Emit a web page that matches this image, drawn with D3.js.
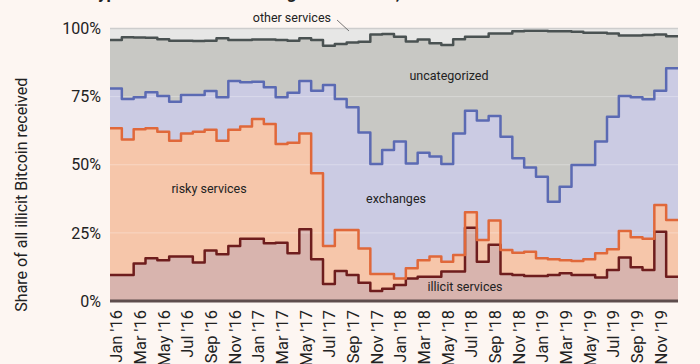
<!DOCTYPE html>
<html>
<head>
<meta charset="utf-8">
<script src="https://cdn.jsdelivr.net/npm/d3@7/dist/d3.min.js"></script>
<style>
  html, body { margin: 0; padding: 0; background: #fdf6f2; }
  svg { display: block; font-family: Roboto, "Noto Sans", sans-serif; }
</style>
</head>
<body>
<svg id="chart" width="700" height="364"></svg>
<script>
const months = ["Jan '16","Feb '16","Mar '16","Apr '16","May '16","Jun '16","Jul '16","Aug '16","Sep '16","Oct '16","Nov '16","Dec '16",
  "Jan '17","Feb '17","Mar '17","Apr '17","May '17","Jun '17","Jul '17","Aug '17","Sep '17","Oct '17","Nov '17","Dec '17",
  "Jan '18","Feb '18","Mar '18","Apr '18","May '18","Jun '18","Jul '18","Aug '18","Sep '18","Oct '18","Nov '18","Dec '18",
  "Jan '19","Feb '19","Mar '19","Apr '19","May '19","Jun '19","Jul '19","Aug '19","Sep '19","Oct '19","Nov '19","Dec '19"];
const tickLabels = ["Jan '16","Mar '16","May '16","Jul '16","Sep '16","Nov '16","Jan '17","Mar '17","May '17","Jul '17","Sep '17","Nov '17",
  "Jan '18","Mar '18","May '18","Jul '18","Sep '18","Nov '18","Jan '19","Mar '19","May '19","Jul '19","Sep '19","Nov '19"];
const yTicks = [0, 25, 50, 75, 100];

const illicit = [9.5,9.5,13.8,15.7,15.0,16.3,16.3,14.1,18.5,17.2,20.2,22.8,22.8,21.2,21.4,17.5,26.3,15.3,6.2,11.0,9.5,6.7,3.7,4.5,
  5.9,8.3,8.9,8.9,10.8,10.8,26.9,14.4,20.6,9.9,9.5,9.2,9.2,9.5,10.2,9.5,9.5,8.6,11.4,16.0,12.4,11.4,25.4,8.9];
const risky = [53.9,49.8,49.2,47.7,47.1,42.5,45.2,48.0,44.3,41.6,42.6,41.2,44.0,43.8,36.2,40.6,35.2,31.6,14.0,15.1,16.6,12.6,6.2,5.4,
  2.4,3.7,6.1,7.4,3.6,6.1,5.7,8.0,8.9,8.8,8.2,8.9,6.5,5.8,4.8,5.2,5.8,8.9,7.6,9.7,11.0,11.4,9.8,20.8];
const exchanges = [14.6,14.8,11.8,13.2,13.1,14.3,14.1,13.5,14.3,16.0,17.9,16.3,13.7,13.4,17.2,18.3,19.2,30.3,59.1,48.0,45.0,42.5,40.4,45.5,
  50.2,38.5,39.4,36.7,35.9,44.6,37.2,43.8,38.4,41.6,34.7,30.9,29.9,21.1,26.9,35.2,34.6,41.0,48.6,49.5,51.4,51.2,42.0,55.7];
const uncategorized = [17.8,22.7,21.9,20.0,20.9,22.4,19.9,19.8,18.4,21.6,15.1,15.5,15.5,17.6,21.0,19.1,15.7,18.6,14.4,20.2,23.8,33.3,47.5,42.6,
  38.5,44.7,41.6,41.6,43.6,34.6,27.2,30.8,30.3,37.9,46.6,50.2,53.6,62.6,57.1,48.9,48.5,39.9,30.6,22.2,22.6,23.6,20.6,11.8];
const otherServices = [4.2,3.2,3.3,3.4,3.9,4.5,4.5,4.6,4.5,3.6,4.2,4.2,4.0,4.0,4.2,4.5,3.6,4.2,6.3,5.7,5.1,4.9,2.2,2.0,
  3.0,4.8,4.0,5.4,6.1,3.9,3.0,3.0,1.8,1.8,1.0,0.8,0.8,1.0,1.0,1.2,1.6,1.6,1.8,2.6,2.6,2.4,2.2,2.8];

const seriesNames = ["illicit services","risky services","exchanges","uncategorized","other services"];
const seriesValues = [illicit, risky, exchanges, uncategorized, otherServices];
const fills = ["#d8b4ae","#f6c6aa","#cbcbe3","#c8c8c4","#e7e7e6"];
const strokes = ["#6e1d1d","#e0683a","#5b6ab3","#4a5252","#cfcfcf"];

(function () {
  const table = months.map((m, i) => {
    const row = { idx: i };
    seriesNames.forEach((s, k) => row[s] = seriesValues[k][i]);
    return row;
  });
  const lastRow = Object.assign({}, table[table.length - 1], { idx: months.length });
  const tableExt = table.concat([lastRow]);

  const svg = d3.select("#chart");
  const mLeft = 110, mRight = 678, mTop = 28.5, mBottom = 301;

  const x = d3.scaleLinear().domain([0, months.length]).range([mLeft, mRight]);
  const y = d3.scaleLinear().domain([0, 100]).range([mBottom, mTop]);

  const stacked = d3.stack().keys(seriesNames)(tableExt);

  const area = d3.area()
    .x(d => x(d.data.idx))
    .y0(d => y(d[0]))
    .y1(d => y(Math.min(100, d[1])))
    .curve(d3.curveStepAfter);

  const line = d3.line()
    .x(d => x(d.data.idx))
    .y(d => y(Math.min(100, d[1])))
    .curve(d3.curveStepAfter);

  svg.append("text")
    .attr("x", 88).attr("y", -1)
    .attr("font-size", 17).attr("font-weight", "bold").attr("fill", "#222")
    .text("Types of services receiving illicit Bitcoin, 2016 – 2019");

  svg.append("g").selectAll("path").data(stacked).join("path")
    .attr("d", area)
    .attr("fill", (d, i) => fills[i]);

  svg.append("g").selectAll("line").data([25, 50, 75]).join("line")
    .attr("x1", mLeft).attr("x2", mRight)
    .attr("y1", d => y(d)).attr("y2", d => y(d))
    .attr("stroke", "#ffffff").attr("stroke-opacity", 0.3).attr("stroke-width", 1);

  svg.append("g").selectAll("path").data(stacked.slice(0, 4)).join("path")
    .attr("d", line)
    .attr("fill", "none")
    .attr("stroke", (d, i) => strokes[i])
    .attr("stroke-width", 2.5)
    .attr("stroke-linejoin", "round");

  svg.append("line")
    .attr("x1", mLeft).attr("x2", mRight).attr("y1", y(100)).attr("y2", y(100))
    .attr("stroke", "#cdcdcd").attr("stroke-width", 1.5);

  svg.append("line")
    .attr("x1", mLeft).attr("x2", mRight).attr("y1", y(0)).attr("y2", y(0))
    .attr("stroke", "#5e4d4d").attr("stroke-width", 3);

  const tickVals = tickLabels.map(l => months.indexOf(l) + 0.5);
  const xAxis = svg.append("g").attr("transform", `translate(0,${mBottom})`)
    .call(d3.axisBottom(x).tickValues(tickVals).tickSize(0).tickFormat((d, i) => tickLabels[i]));
  xAxis.select(".domain").remove();
  xAxis.selectAll("text")
    .attr("transform", "rotate(-90)")
    .attr("text-anchor", "end")
    .attr("x", -9).attr("y", 0).attr("dy", "0.35em")
    .attr("font-size", 16.5).attr("fill", "#222")
    .attr("font-family", "Roboto, sans-serif");

  const yAxis = svg.append("g").attr("transform", `translate(${mLeft},0)`)
    .call(d3.axisLeft(y).tickValues(yTicks).tickSize(0).tickPadding(9).tickFormat(d => d + "%"));
  yAxis.select(".domain").remove();
  yAxis.selectAll("text").attr("font-size", 16).attr("fill", "#222").attr("font-family", "Roboto, sans-serif");

  svg.append("text")
    .attr("transform", `translate(27,${(mTop + mBottom) / 2 + 30}) rotate(-90)`)
    .attr("text-anchor", "middle")
    .attr("font-size", 16).attr("fill", "#222")
    .text("Share of all illicit Bitcoin received");

  const labels = [
    { t: "uncategorized", x: 449, y: 76 },
    { t: "risky services", x: 209, y: 189 },
    { t: "exchanges", x: 396, y: 199 },
    { t: "illicit services", x: 465, y: 287 }
  ];
  svg.append("g").selectAll("text").data(labels).join("text")
    .attr("x", d => d.x).attr("y", d => d.y)
    .attr("dy", "0.35em").attr("text-anchor", "middle")
    .attr("font-size", 12.5).attr("fill", "#222")
    .text(d => d.t);

  svg.append("text")
    .attr("x", 331).attr("y", 18).attr("dy", "0.35em").attr("text-anchor", "end")
    .attr("font-size", 12.5).attr("fill", "#222")
    .text("other services");
  svg.append("line")
    .attr("x1", 337).attr("y1", 20).attr("x2", 349).attr("y2", 31)
    .attr("stroke", "#555").attr("stroke-width", 0.8);
})();
</script>
</body>
</html>
